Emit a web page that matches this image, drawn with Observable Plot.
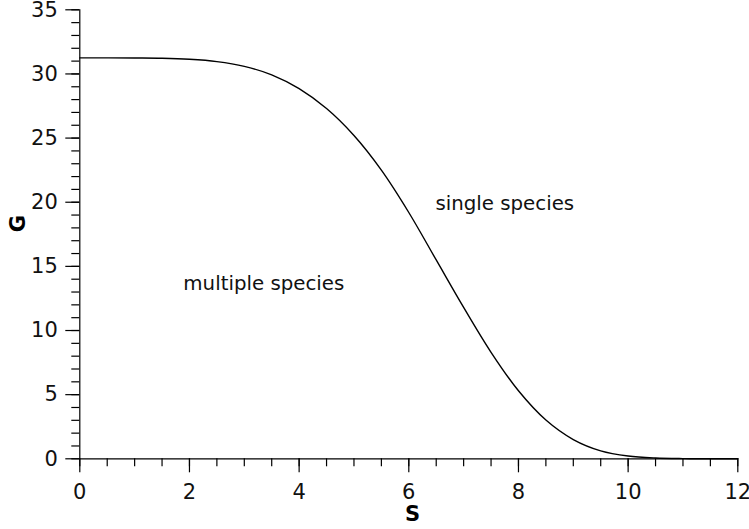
<!DOCTYPE html>
<html>
<head>
<meta charset="utf-8">
<script src="https://cdn.jsdelivr.net/npm/d3@7"></script>
<script src="https://cdn.jsdelivr.net/npm/@observablehq/plot@0.6"></script>
<style>
  html, body { margin: 0; padding: 0; background: white; }
  #chart svg { display: block; }
</style>
</head>
<body>
<div id="chart"></div>
<script>
// Values
const S = [0, 0.5, 1, 1.5, 2, 2.5, 3, 3.5, 4, 4.5, 5, 5.5, 6, 6.5, 7, 7.5, 8, 8.5, 9, 9.5, 10, 10.5, 11, 11.5, 12];
const G = [31.25, 31.25, 31.24, 31.22, 31.14, 30.96, 30.59, 29.93, 28.85, 27.3, 25.2, 22.5, 19.2, 15.5, 11.8, 8.3, 5.3, 3.02, 1.5, 0.62, 0.22, 0.065, 0.015, 0.003, 0];
const xTicks = [0, 2, 4, 6, 8, 10, 12];
const xMinor = [0, 0.5, 1, 1.5, 2, 2.5, 3, 3.5, 4, 4.5, 5, 5.5, 6, 6.5, 7, 7.5, 8, 8.5, 9, 9.5, 10, 10.5, 11, 11.5, 12];
const yTicks = [0, 5, 10, 15, 20, 25, 30, 35];
const yMinor = [0,1,2,3,4,5,6,7,8,9,10,11,12,13,14,15,16,17,18,19,20,21,22,23,24,25,26,27,28,29,30,31,32,33,34,35];
const labelText = ["multiple species", "single species"];
const labelS = [3.356, 7.75];
const labelG = [13.65, 19.9];

const curve = S.map((s, i) => ({S: s, G: G[i]}));
const labels = labelText.map((t, i) => ({text: t, S: labelS[i], G: labelG[i]}));

const chart = Plot.plot({
  width: 749,
  height: 529,
  marginLeft: 79.3,
  marginRight: 11.7,
  marginTop: 9.3,
  marginBottom: 70.7,
  x: {domain: [0, 12]},
  y: {domain: [0, 35]},
  style: {fontFamily: "DejaVu Sans", fontSize: "21px", color: "#000", background: "white"},
  marks: [
    Plot.axisX(xMinor, {tickSize: 8, text: null, label: null, strokeWidth: 1.2}),
    Plot.axisX(xTicks, {tickSize: 14, tickPadding: 11, label: null, fontSize: 21, strokeWidth: 1.2, fill: "#111"}),
    Plot.axisY(yMinor, {tickSize: 8, text: null, label: null, strokeWidth: 1.2}),
    Plot.axisY(yTicks, {tickSize: 14, tickPadding: 8, label: null, fontSize: 21, strokeWidth: 1.2, fill: "#111"}),
    Plot.ruleY([0], {stroke: "#000", strokeWidth: 1.2}),
    Plot.ruleX([0], {stroke: "#000", strokeWidth: 1.2}),
    Plot.line(curve, {x: "S", y: "G", curve: "catmull-rom", stroke: "#000", strokeWidth: 1.4}),
    Plot.text(labels, {x: "S", y: "G", text: "text", fontSize: 19.8, fill: "#111", textAnchor: "middle", lineAnchor: "middle"}),
    Plot.text(["S"], {frameAnchor: "bottom", text: d => d, lineAnchor: "top", dy: 47.7, dx: 3.7, fontWeight: "bold", fontSize: 21, fill: "#000"}),
    Plot.text(["G"], {frameAnchor: "left", text: d => d, rotate: -90, lineAnchor: "middle", dx: -61.8, dy: -2, fontWeight: "bold", fontSize: 21, fill: "#000"})
  ]
});
document.getElementById("chart").appendChild(chart);
</script>
</body>
</html>
